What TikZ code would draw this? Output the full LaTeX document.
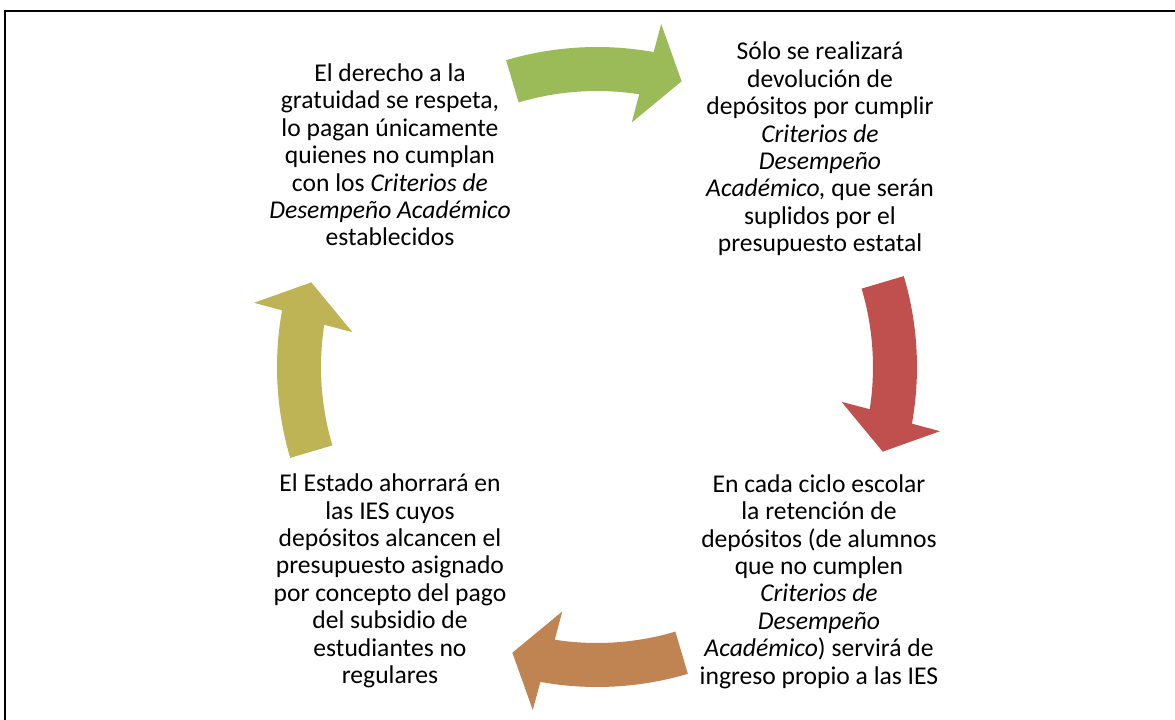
\documentclass[tikz,border=0pt]{standalone}
\usepackage{fontspec}
\setmainfont{Carlito}
\usepackage{tikz}
\usetikzlibrary{positioning}
\definecolor{arrGreen}{RGB}{155, 187, 89}
\definecolor{arrRed}{RGB}{192, 80, 77}
\definecolor{arrBrown}{RGB}{192, 132, 82}
\definecolor{arrOlive}{RGB}{190, 180, 86}
\tikzset{
  steptext/.style={align=center, font=\fontsize{12.8}{13.7}\selectfont, inner sep=0pt},
}

\begin{document}
\begin{tikzpicture}[x=0.5pt, y=0.5pt]
  % page frame (origin at the centre of the cycle)
  \useasboundingbox (-597,-352) rectangle (578,367);
  \draw[line width=1pt] (-591.5,-360) -- (-591.5,356.5) -- (590,356.5);

  % Curved block arrows of the cycle
  \def\ro{320}
  \def\ri{276}
  \foreach \ang/\col in {90/arrGreen, 0/arrRed, -90/arrBrown, 180/arrOlive}{
    \fill[\col] ({\ang+16.5}:\ro)
      arc[start angle={\ang+16.5}, end angle={\ang-10.2}, radius=\ro]
      -- ({\ang-10.6}:349) -- ({\ang-16.5}:298) -- ({\ang-8.1}:247)
      -- ({\ang-8.8}:\ri)
      arc[start angle={\ang-8.8}, end angle={\ang+16.5}, radius=\ri]
      -- cycle;
  }

  % Texts
  \node[steptext] (derecho) at (-207,212)
    {El derecho a la\\ gratuidad se respeta,\\ lo pagan únicamente\\
     quienes no cumplan\\ con los \textit{Criterios de}\\
     \textit{Desempeño Académico}\\ establecidos};
  \node[steptext] (devolucion) at (223,218)
    {Sólo se realizará\\ devolución de\\ depósitos por cumplir\\
     \textit{Criterios de}\\ \textit{Desempeño}\\
     \textit{Académico,} que serán\\ suplidos por el\\ presupuesto estatal};
  \node[steptext] (retencion) at (222,-214.5)
    {En cada ciclo escolar\\ la retención de\\ depósitos (de alumnos\\
     que no cumplen\\ \textit{Criterios de}\\ \textit{Desempeño}\\
     \textit{Académico}) servirá de\\ ingreso propio a las IES};
  \node[steptext] (ahorro) at (-207,-214)
    {El Estado ahorrará en\\ las IES cuyos\\ depósitos alcancen el\\
     presupuesto asignado\\ por concepto del pago\\ del subsidio de\\
     estudiantes no\\ regulares};
\end{tikzpicture}
\end{document}
